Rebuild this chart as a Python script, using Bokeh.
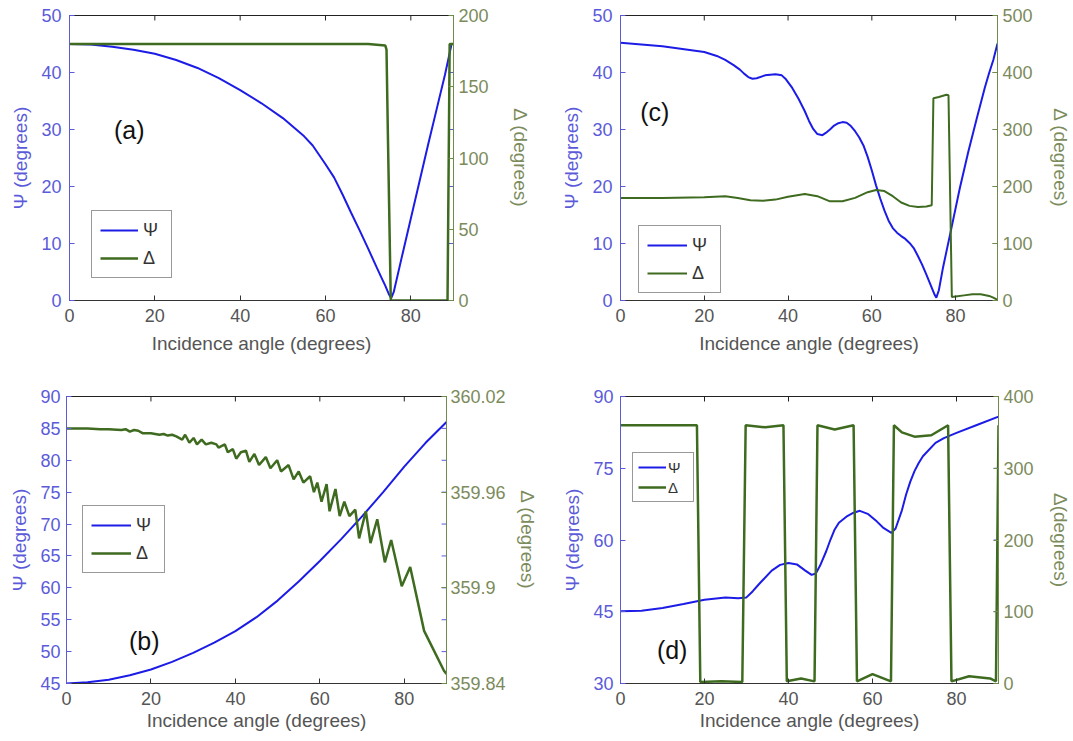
from bokeh.plotting import figure
from bokeh.models import (Range1d, LinearAxis, FixedTicker, Legend, LegendItem,
                          Label, PrintfTickFormatter)
from bokeh.layouts import column, row
from bokeh.embed import file_html
from bokeh.resources import INLINE

# ---------------- data ----------------
x_ticks = [0, 20, 40, 60, 80]

# panel (a)
a_psi_x = [0, 5, 10, 15, 20, 25, 30, 35, 40, 45, 50, 55, 57, 60, 62, 64, 66, 68, 70, 72,
           73, 74, 74.8, 75.4, 76, 78, 80, 82, 84, 86, 88, 89.5]
a_psi_y = [45, 44.9, 44.5, 44.0, 43.3, 42.2, 40.8, 39.0, 36.9, 34.6, 32.0, 28.8, 27.2, 23.9,
           21.6, 18.6, 15.4, 12.3, 9.1, 5.8, 4.2, 2.6, 1.2, 0.4, 1.5, 8.0, 14.4, 20.8, 27.2,
           33.4, 39.6, 44.8]
a_del_x = [0, 20, 40, 60, 70, 74.0, 74.3, 74.6, 75.3, 80, 85, 88.6, 89.1, 90]
a_del_y = [180, 180, 180, 180, 180, 179, 176, 120, 0, 0, 0, 0, 180, 180]

# panel (c)
c_psi_x = [0, 10, 20, 23, 25, 27, 28.5, 29.5, 30.5, 31.5, 32.5, 34.5, 37, 38.5, 39.5, 41,
           42.5, 44, 45, 46, 47, 48.2, 49, 50, 51, 52, 53, 54, 55, 56, 57, 58, 59, 60, 61,
           62, 63, 64, 65, 66, 67, 68, 69, 70, 71, 72, 73, 74, 75, 75.4, 76, 77, 79, 81, 83,
           85, 87, 88, 89, 90]
c_psi_y = [45.2, 44.6, 43.6, 42.9, 42.2, 41.3, 40.5, 39.8, 39.2, 38.9, 39.0, 39.5, 39.7,
           39.5, 38.8, 37.3, 35.4, 33.2, 31.5, 30.1, 29.2, 29.0, 29.4, 30.0, 30.7, 31.1,
           31.3, 31.2, 30.6, 29.7, 28.6, 27.2, 25.2, 22.8, 20.2, 17.9, 15.8, 14.0, 12.7,
           11.9, 11.3, 10.8, 10.1, 9.2, 7.8, 6.3, 4.6, 2.8, 1.0, 0.5, 1.8, 5.8, 12.7, 19.7,
           26.0, 31.8, 37.4, 39.9, 42.2, 45.1]
c_del_x = [0, 10, 20, 25, 28, 31, 34, 37, 40, 44, 47, 50, 53, 56, 59, 61, 63, 65, 67, 69, 71,
           73, 74.3, 74.7, 76, 77.8, 78.3, 79.1, 80, 82, 84, 86, 88, 89, 90]
c_del_y = [180, 180, 181, 183, 180, 176, 175, 177, 182, 187, 183, 174, 174, 180, 190, 194,
           192, 183, 172, 166, 164, 165, 167, 355, 357, 361, 360, 6, 7, 9, 11, 11, 8, 5, 1]

# panel (b)
b_psi_x = [0, 5, 10, 15, 20, 25, 30, 35, 40, 45, 50, 55, 60, 65, 70, 75, 80, 85, 90]
b_psi_y = [45.0, 45.2, 45.6, 46.3, 47.2, 48.4, 49.8, 51.4, 53.2, 55.4, 58.0, 61.0, 64.2, 67.6,
           71.2, 75.0, 79.0, 82.7, 86.0]
b_del_x = [0, 5, 8, 10, 13, 14, 15, 16, 17, 18, 20, 22, 23, 24, 25, 26, 27.4, 28.1, 29.1,
           30.1, 30.9, 32.0, 33.0, 34.3, 35.5, 36.0, 37.5, 38.2, 39.4, 40.2, 41.3, 42.5, 43.3,
           44.5, 45.6, 47.2, 48.3, 49.9, 50.8, 52.6, 53.8, 55.0, 56.1, 57.7, 58.6, 59.4, 60.4,
           61.6, 62.3, 63.7, 64.7, 65.8, 67.0, 68.4, 69.3, 70.9, 72.0, 73.6, 75.4, 76.9, 79.4,
           81.4, 84.7, 89.4, 90]
b_del_y = [360.000, 360.000, 359.9995, 359.9995, 359.999, 359.9995, 359.998, 359.999,
           359.9985, 359.997, 359.997, 359.996, 359.9965, 359.9955, 359.996, 359.995,
           359.993, 359.996, 359.991, 359.994, 359.990, 359.993, 359.990, 359.991, 359.990,
           359.988, 359.990, 359.985, 359.987, 359.981, 359.985, 359.986, 359.979, 359.984,
           359.977, 359.982, 359.975, 359.980, 359.973, 359.977, 359.968, 359.973, 359.966,
           359.970, 359.960, 359.966, 359.954, 359.965, 359.948, 359.962, 359.945, 359.954,
           359.945, 359.949, 359.931, 359.948, 359.928, 359.943, 359.916, 359.930, 359.901,
           359.913, 359.873, 359.848, 359.846]

# panel (d)
d_psi_x = [0, 5, 10, 15, 20, 25, 28, 30, 31.5, 33, 36, 38, 40, 42, 44, 45.5, 46.5, 47.5, 49,
           50, 51, 52, 54, 55.5, 57, 59, 61, 62.5, 64.5, 65.5, 67, 68, 69, 70, 71, 72, 75,
           77, 80, 85, 90]
d_psi_y = [45.1, 45.2, 45.8, 46.6, 47.5, 48.0, 47.8, 48.0, 49.3, 50.8, 53.6, 54.8, 55.2,
           54.9, 53.6, 52.7, 53.0, 54.6, 57.7, 60.1, 62.2, 63.6, 65.0, 65.7, 66.1, 65.4,
           63.9, 62.6, 61.5, 62.4, 66.2, 69.5, 72.2, 74.4, 76.1, 77.5, 80.3, 81.3, 82.4,
           84.1, 85.8]
d_del_x = [0, 18.2, 19.0, 24, 29.0, 29.8, 34.5, 38.8, 39.6, 43, 46.2, 46.9, 51, 55.5, 56.3,
           60, 64.4, 65.1, 67, 70, 74, 78.0, 78.8, 83, 88, 89.4, 90]
d_del_y = [360, 360, 2, 3, 2, 360, 357, 360, 3, 7, 3, 360, 354, 360, 3, 13, 3, 360, 350, 344,
           346, 360, 3, 10, 7, 3, 360]

# ---------------- styling ----------------
FONT = "Liberation Sans"
PSI_COLOR = "#1c1ce6"
DEL_COLOR = "#3e6b1f"
LEFT_AX = "#5b5bd9"
RIGHT_AX = "#7c8b5c"
X_AX = "#555555"
TICK_PX = 5


def style_axis(ax, color, ticks, lab_standoff, axlab_standoff, label=None, size="18px",
               lab_color=None, line_color=None):
    ax.ticker = FixedTicker(ticks=ticks)
    ax.major_tick_in = TICK_PX
    ax.major_tick_out = 0
    ax.minor_tick_line_color = None
    ax.axis_line_color = line_color or color
    ax.major_tick_line_color = line_color or color
    ax.major_label_text_color = lab_color or color
    ax.major_label_text_font = FONT
    ax.major_label_text_font_size = size
    ax.major_label_standoff = lab_standoff
    if label is not None:
        ax.axis_label = label
        ax.axis_label_text_font = FONT
        ax.axis_label_text_font_size = "19px"
        ax.axis_label_text_font_style = "normal"
        ax.axis_label_text_color = lab_color or color
        ax.axis_label_standoff = axlab_standoff


def panel(w, h, bl, br, bt, bb, yr, yticks, dr, dticks, px, py, dx, dy, tag, tagx, tagy,
          leg_loc, small_leg=False, rlabel="Δ (degrees)", rlab_so=(5, 18), llab_so=(8, 7),
          xlab_so=(8, 8), dfmt=None, psi_w=2, del_w=2.5, gw=40):
    p = figure(width=w, height=h, x_range=Range1d(0, 90), y_range=Range1d(*yr),
               output_backend="svg", toolbar_location=None,
               min_border_left=bl, min_border_right=br, min_border_top=bt,
               min_border_bottom=bb)
    p.grid.visible = False
    p.outline_line_color = "#222222"
    p.outline_line_width = 1
    p.background_fill_color = "white"
    p.border_fill_color = "white"
    p.extra_y_ranges = {"d": Range1d(*dr)}

    fw = w - bl - br
    fh = h - bt - bb
    # mirrored tick marks: x ticks along the top edge, psi ticks along the right edge
    ytop = yr[1]
    dyt = (yr[1] - yr[0]) * TICK_PX / fh
    p.segment(x0=x_ticks, y0=[ytop] * len(x_ticks), x1=x_ticks,
              y1=[ytop - dyt] * len(x_ticks), line_color="#222222", line_width=1)
    dxt = 90 * TICK_PX / fw
    inner = [t for t in yticks if yr[0] < t < yr[1]]
    p.segment(x0=[90] * len(inner), y0=inner, x1=[90 - dxt] * len(inner), y1=inner,
              line_color=LEFT_AX, line_width=1)

    r1 = p.line(px, py, line_color=PSI_COLOR, line_width=psi_w)
    r2 = p.line(dx, dy, line_color=DEL_COLOR, line_width=del_w, y_range_name="d")

    xa = p.xaxis[0]
    style_axis(xa, X_AX, x_ticks, xlab_so[0], xlab_so[1],
               label="Incidence angle (degrees)", lab_color="#555555", line_color="#333333")
    ya = p.yaxis[0]
    style_axis(ya, LEFT_AX, yticks, llab_so[0], llab_so[1], label="Ψ (degrees)")

    ra = LinearAxis(y_range_name="d")
    style_axis(ra, RIGHT_AX, dticks, rlab_so[0], rlab_so[1], label=rlabel,
               line_color="#6f8a4a")
    if dfmt:
        ra.formatter = PrintfTickFormatter(format=dfmt)
    p.add_layout(ra, "right")

    if small_leg:
        leg = Legend(items=[LegendItem(label="Ψ", renderers=[r1]),
                            LegendItem(label="Δ", renderers=[r2])],
                     location=leg_loc, glyph_width=28, glyph_height=18, label_height=18,
                     label_standoff=2, padding=5, spacing=2, margin=0,
                     label_text_font_size="15px")
    else:
        leg = Legend(items=[LegendItem(label="Ψ", renderers=[r1]),
                            LegendItem(label="Δ", renderers=[r2])],
                     location=leg_loc, glyph_width=gw, glyph_height=22, label_height=22,
                     label_standoff=5, padding=8, spacing=6, margin=0,
                     label_text_font_size="18px")
    leg.label_text_font = FONT
    leg.label_text_color = "#333333"
    leg.border_line_color = "#333333"
    leg.border_line_width = 1.5
    leg.background_fill_color = "white"
    leg.background_fill_alpha = 1.0
    p.add_layout(leg)

    p.add_layout(Label(x=tagx, y=tagy, text=tag, text_font=FONT, text_font_size="25px",
                       text_align="center", text_baseline="middle", text_color="#111111"))
    return p


pa = panel(540, 370, 69, 87, 14, 70, (0, 50), [0, 10, 20, 30, 40, 50],
           (0, 200), [0, 50, 100, 150, 200], a_psi_x, a_psi_y, a_del_x, a_del_y,
           "(a)", 14, 30, (22, 22), rlab_so=(5, 18), gw=38)
pc = panel(533, 370, 80, 67, 15, 70, (0, 50), [0, 10, 20, 30, 40, 50],
           (0, 500), [0, 100, 200, 300, 400, 500], c_psi_x, c_psi_y, c_del_x, c_del_y,
           "(c)", 8.2, 33, (18, 7), rlab_so=(5, 14), del_w=2, gw=40)
pb = panel(540, 371, 66, 88, 25, 58, (45, 90), [45, 50, 55, 60, 65, 70, 75, 80, 85, 90],
           (359.84, 360.02), [359.84, 359.9, 359.96, 360.02], b_psi_x, b_psi_y,
           b_del_x, b_del_y, "(b)", 18.4, 51.7, (16, 110), rlab_so=(4, 8), llab_so=(6, 7),
           xlab_so=(8, 2), dfmt="%g", gw=40)
pd = panel(533, 371, 80, 68, 26, 58, (30, 90), [30, 45, 60, 75, 90],
           (0, 400), [0, 100, 200, 300, 400], d_psi_x, d_psi_y, d_del_x, d_del_y,
           "(d)", 12.3, 36.9, (12, 181), small_leg=True, rlabel="Δ(degrees)",
           rlab_so=(5, 13), llab_so=(7, 7), xlab_so=(8, 2))

layout = column(row(pa, pc), row(pb, pd))
open("out.html", "w").write(file_html(layout, INLINE))
